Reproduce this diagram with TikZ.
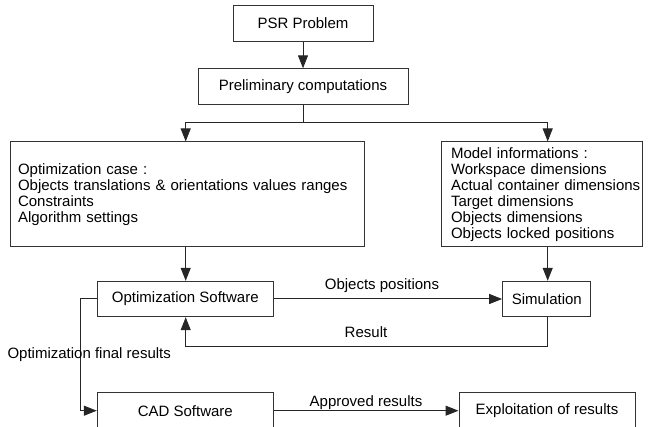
\documentclass[tikz,border=0pt]{standalone}
\usepackage{fontspec}
\setmainfont{Liberation Sans}
\usetikzlibrary{arrows.meta}
\begin{document}
\begin{tikzpicture}[x=1pt,y=-1pt,
  font=\fontsize{15}{16}\selectfont,
  box/.style={draw=black!80, line width=1pt, inner sep=0pt, minimum height=35.4pt, align=center},
  tbox/.style={draw=black!80, line width=1pt, inner ysep=0pt, align=left, minimum height=104.7pt},
  arr/.style={draw=black!85, line width=1pt, -{Triangle[length=13pt,width=10pt]}},
  conn/.style={draw=black!85, line width=1pt},
  lbl/.style={inner sep=0pt}]
\useasboundingbox (0,0) rectangle (648,427);
% nodes
\node[box, minimum width=140pt] (psr) at (303,23.5) {PSR Problem};
\node[box, minimum width=210pt] (pre) at (303,86.5) {Preliminary computations};
\node[tbox, inner xsep=8pt, text width=338pt] (opt) at (187,194.3)
  {Optimization case :\\\mbox{Objects translations \& orientations values ranges}\\Constraints\\Algorithm settings};
\node[tbox, inner xsep=9.3pt, text width=182.4pt] (mod) at (542.2,194.3)
  {Model informations :\\Workspace dimensions\\\mbox{Actual container dimensions}\\Target dimensions\\Objects dimensions\\\mbox{Objects locked positions}};
\node[box, minimum width=176pt] (osw) at (185.3,299) {Optimization Software};
\node[box, minimum width=88.3pt] (sim) at (546.8,299) {Simulation};
\node[box, minimum width=176pt, minimum height=36pt] (cad) at (185.3,411) {CAD Software};
\node[box, minimum width=176pt, minimum height=36pt] (exp) at (547,411) {Exploitation of results};
% junction
\coordinate (j) at (303,123);
\coordinate (jl) at (185.7,123);
\coordinate (jr) at (547.7,123);
\draw[arr] (psr) -- (pre);
\draw[conn] (pre.south) -- (j);
\draw[arr] (j) -- (jl) -- (opt.north -| jl);
\draw[arr] (j) -- (jr) -- (mod.north -| jr);
\draw[arr] (opt.south -| jl) -- (osw.north -| jl);
\draw[arr] (mod.south -| jr) -- (sim.north -| jr);
% objects positions
\draw[arr] (osw.east) -- (sim.west);
\node[lbl] (lop) at (382,286) {Objects positions};
% result feedback
\coordinate (f1) at (547.7,346.3);
\coordinate (f2) at (185.7,346.3);
\draw[arr] (sim.south -| jr) -- (f1) -- (f2) -- (osw.south -| f2);
\node[lbl] (lres) at (366,332) {Result};
% final results
\coordinate (g1) at (80,299);
\coordinate (g2) at (80,410.7);
\draw[arr] (osw.west) -- (g1) -- (g2) -- (cad.west |- g2);
\node[lbl, anchor=west] (lfin) at (7.3,355) {Optimization final results};
% approved
\draw[arr] (cad.east |- g2) -- (exp.west |- g2);
\node[lbl] (lapp) at (366,402.3) {Approved results};
\end{tikzpicture}
\end{document}
